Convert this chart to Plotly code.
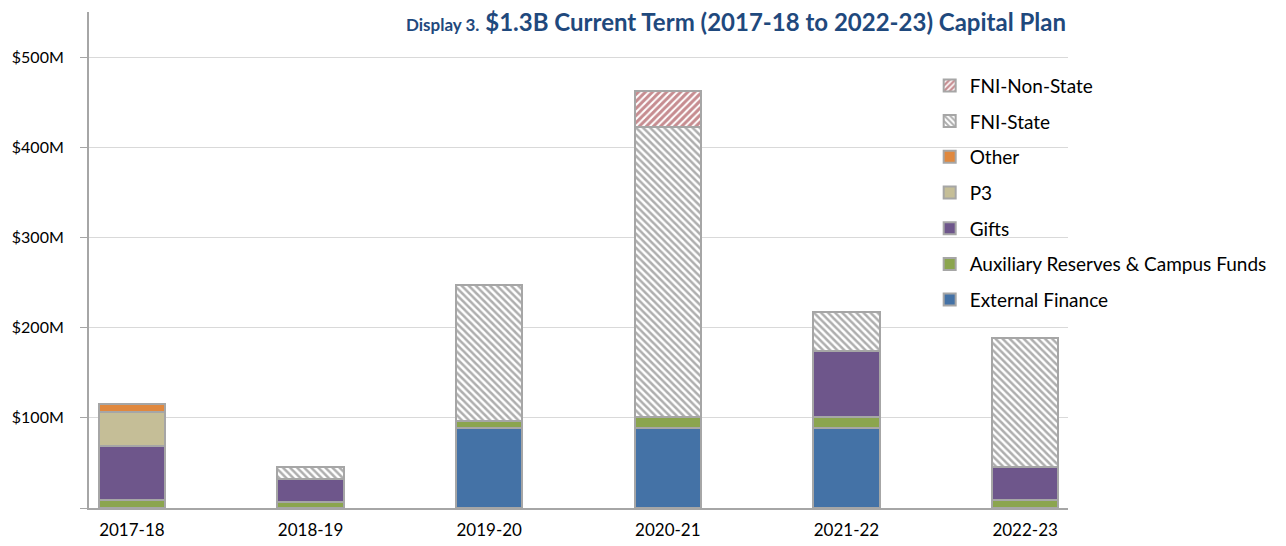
import plotly.graph_objects as go

# fiscal years on the x axis
years = ["2017-18", "2018-19", "2019-20", "2020-21", "2021-22", "2022-23"]

# values in $M
external_finance = [0, 0, 89, 89, 89, 0]
aux_reserves = [9, 7, 8, 12, 12, 9]
gifts = [60, 25, 0, 0, 73, 36]
p3 = [37, 0, 0, 0, 0, 0]
other = [9, 0, 0, 0, 0, 0]
fni_state = [0, 13, 150, 321, 43, 144]
fni_non_state = [0, 0, 0, 40, 0, 0]

yticks = [0, 100, 200, 300, 400, 500]
yticklabels = ["", "$100M", "$200M", "$300M", "$400M", "$500M"]

border = "#A6A6A6"
font_name = "Lato"

fig = go.Figure()

# solid series, bottom to top
solid = [
    ("External Finance", external_finance, "#4472A6"),
    ("Auxiliary Reserves & Campus Funds", aux_reserves, "#8BA54E"),
    ("Gifts", gifts, "#6E568B"),
    ("P3", p3, "#C5BE97"),
    ("Other", other, "#E0883E"),
]
for i, (name, vals, col) in enumerate(solid):
    fig.add_trace(go.Bar(
        x=years, y=vals, name=name, legendgroup=name, legendrank=100 - i,
        marker=dict(color=col, line=dict(color=border, width=2)),
        width=0.37,
    ))

# hatched series
fig.add_trace(go.Bar(
    x=years, y=fni_state, name="FNI-State", legendgroup="FNI-State", legendrank=2,
    marker=dict(color="white", line=dict(color=border, width=2),
                pattern=dict(shape="\\", fgcolor="#5E5E5E", bgcolor="white",
                             size=5, solidity=0.5)),
    width=0.37,
))
fig.add_trace(go.Bar(
    x=years, y=fni_non_state, name="FNI-Non-State", legendgroup="FNI-Non-State", legendrank=1,
    marker=dict(color="white", line=dict(color=border, width=2),
                pattern=dict(shape="/", fgcolor="#8E1A22", bgcolor="white",
                             size=5, solidity=0.6)),
    width=0.37,
))

# page has an 8px body margin; plot area should land at 89..1068 px on screen
x_end = (1060 - 81) / (1286 - 81 - 10)

fig.add_annotation(
    x=x_end, y=0.98, xref="paper", yref="paper", xanchor="right", yanchor="middle",
    text="<b><span style='font-size:17px'>Display 3.</span> $1.3B Current Term (2017-18 to 2022-23) Capital Plan</b>",
    showarrow=False,
    font=dict(family=font_name, size=24, color="#1F497D"),
)

fig.update_layout(
    width=1286, height=546,
    margin=dict(l=81, r=10, t=4, b=46),
    barmode="stack",
    plot_bgcolor="white", paper_bgcolor="white",
    font=dict(family=font_name, size=17, color="#000000"),
    legend=dict(
        x=0.7035, xanchor="left", y=0.89, yanchor="top",
        traceorder="grouped", tracegroupgap=8,
        font=dict(size=19), itemwidth=30,
        bgcolor="rgba(0,0,0,0)",
    ),
    xaxis=dict(
        domain=[0, x_end], automargin=False,
        range=[-0.24, 5.24], showline=True, linecolor=border, linewidth=2,
        ticks="", showgrid=False, tickfont=dict(size=17),
        ticklabelstandoff=6,
    ),
    yaxis=dict(
        range=[0, 550], tickvals=yticks, ticktext=yticklabels, automargin=False,
        showline=True, linecolor=border, linewidth=2,
        ticks="outside", ticklen=7, tickcolor=border,
        showgrid=True, gridcolor="#D9D9D9", gridwidth=1,
        zeroline=False, tickfont=dict(size=16),
        ticklabelstandoff=13,
    ),
)

fig.write_html("out.html")
